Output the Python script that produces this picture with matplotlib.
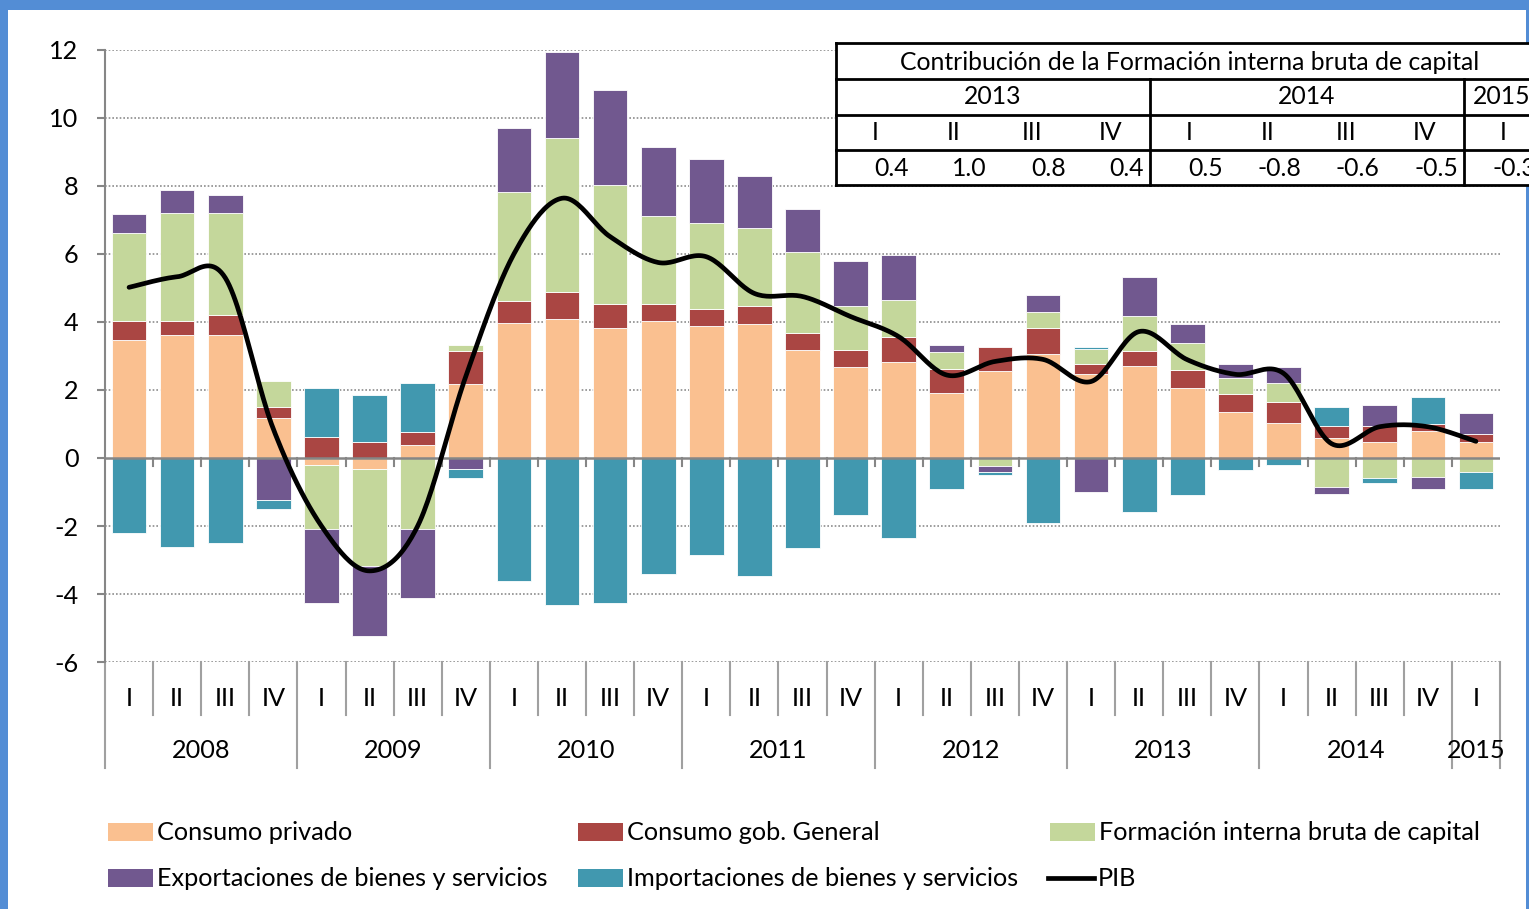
import numpy as np
import matplotlib
matplotlib.use("Agg")
import matplotlib.pyplot as plt
from matplotlib.patches import Rectangle
from matplotlib.lines import Line2D
import matplotlib.transforms as mtrans

plt.rcParams['font.family'] = ['Lato', 'DejaVu Sans']
plt.rcParams['axes.unicode_minus'] = False

# ---- data ----
years = ['2008', '2009', '2010', '2011', '2012', '2013', '2014', '2015']
quarters = ['I', 'II', 'III', 'IV'] * 7 + ['I']

consumo_privado = [3.47, 3.63, 3.63, 1.19, -0.22, -0.33, 0.38, 2.17,
                   3.98, 4.08, 3.83, 4.03, 3.88, 3.93, 3.17, 2.67,
                   2.82, 1.90, 2.57, 3.07, 2.46, 2.71, 2.05, 1.34,
                   1.03, 0.58, 0.47, 0.80, 0.47]
consumo_gob = [0.56, 0.40, 0.59, 0.31, 0.63, 0.48, 0.39, 0.99,
               0.65, 0.80, 0.70, 0.50, 0.50, 0.55, 0.51, 0.50,
               0.74, 0.71, 0.70, 0.76, 0.31, 0.45, 0.55, 0.55,
               0.62, 0.35, 0.46, 0.19, 0.25]
formacion = [2.58, 3.19, 3.00, 0.76, -1.88, -2.85, -2.10, 0.16,
             3.20, 4.52, 3.50, 2.59, 2.54, 2.28, 2.38, 1.31,
             1.08, 0.51, -0.24, 0.46, 0.45, 1.03, 0.78, 0.47,
             0.56, -0.84, -0.60, -0.55, -0.40]
exportaciones = [0.57, 0.66, 0.52, -1.24, -2.17, -2.06, -2.03, -0.33,
                 1.87, 2.53, 2.78, 2.02, 1.87, 1.52, 1.26, 1.32,
                 1.32, 0.21, -0.16, 0.50, -1.00, 1.12, 0.55, 0.41,
                 0.46, -0.21, 0.62, -0.36, 0.61]
importaciones = [-2.20, -2.61, -2.51, -0.25, 1.42, 1.37, 1.43, -0.25,
                 -3.62, -4.32, -4.27, -3.42, -2.85, -3.47, -2.66, -1.69,
                 -2.35, -0.90, -0.09, -1.90, 0.04, -1.60, -1.09, -0.34,
                 -0.20, 0.56, -0.14, 0.80, -0.51]
pib = [5.02, 5.33, 5.30, 0.85, -2.00, -3.32, -2.00, 2.40,
       6.00, 7.64, 6.51, 5.75, 5.92, 4.84, 4.75, 4.16,
       3.57, 2.44, 2.84, 2.90, 2.25, 3.72, 2.89, 2.46,
       2.49, 0.42, 0.92, 0.92, 0.49]

series_names = ['Consumo privado', 'Consumo gob. General',
                'Formación interna bruta de capital',
                'Exportaciones de bienes y servicios',
                'Importaciones de bienes y servicios']
series_colors = ['#FAC090', '#AA4643', '#C4D79B', '#71588F', '#4198AF']

tabla_titulo = 'Contribución de la Formación interna bruta de capital'
tabla_anios = ['2013', '2014', '2015']
tabla_trim = ['I', 'II', 'III', 'IV', 'I', 'II', 'III', 'IV', 'I']
tabla_valores = ['0.4', '1.0', '0.8', '0.4', '0.5', '-0.8', '-0.6', '-0.5', '-0.3']

W, H = 1529, 909
def fx(px):
    return px / W
def fy(py):
    return 1 - py / H

fs = 18.2
fig = plt.figure(figsize=(W / 100, H / 100), dpi=100)
ax = fig.add_axes([fx(105), fy(662), (1500 - 105) / W, (662 - 50) / H])

n = len(pib)
x = np.arange(n)
pos_base = np.zeros(n)
neg_base = np.zeros(n)
for vals, col in zip([consumo_privado, consumo_gob, formacion, exportaciones, importaciones],
                     series_colors):
    v = np.array(vals)
    bottom = np.where(v >= 0, pos_base, neg_base)
    ax.bar(x, v, 0.72, bottom=bottom, color=col, edgecolor='white', linewidth=0.6, zorder=2)
    pos_base = pos_base + np.where(v >= 0, v, 0)
    neg_base = neg_base + np.where(v < 0, v, 0)

# smoothed PIB line (Catmull-Rom through the data points)
P = np.column_stack([x, pib]).astype(float)
P = np.vstack([P[0], P, P[-1]])
t = np.linspace(0, 1, 25)[:, None]
curve = []
for i in range(1, len(P) - 2):
    p0, p1, p2, p3 = P[i - 1], P[i], P[i + 1], P[i + 2]
    seg = 0.5 * (2 * p1 + (-p0 + p2) * t + (2 * p0 - 5 * p1 + 4 * p2 - p3) * t ** 2
                 + (-p0 + 3 * p1 - 3 * p2 + p3) * t ** 3)
    curve.append(seg if i == 1 else seg[1:])
curve = np.vstack(curve)
ax.plot(curve[:, 0], curve[:, 1], color='black', lw=3.4, zorder=4, solid_capstyle='round')

ax.set_xlim(-0.5, n - 0.5)
ax.set_ylim(-6, 12)
ax.set_yticks(np.arange(-6, 13, 2))
ax.set_xticks([])
for yv in np.arange(-6, 13, 2):
    if yv != 0:
        ax.axhline(yv, color='#8C8C8C', lw=1.2, ls=(0, (1, 1.2)), zorder=1)
ax.axhline(0, color='#868686', lw=1.8, zorder=3)
for s in ['top', 'right', 'bottom']:
    ax.spines[s].set_visible(False)
ax.spines['left'].set_color('#868686')
ax.spines['left'].set_linewidth(1.5)
ax.tick_params(axis='y', length=6, width=1.5, color='#868686', labelsize=fs, pad=13)

# small ticks on the zero axis
for b in np.arange(0.5, n - 0.5, 1):
    ax.plot([b, b], [0, -0.24], color='#868686', lw=1.5, zorder=3)

# category axis below
tr = mtrans.blended_transform_factory(ax.transData, ax.transAxes)
for i in range(n + 1):
    b = i - 0.5
    low = -0.173 if (i % 4 == 0 or i == n) else -0.087
    ax.plot([b, b], [0, low], transform=tr, color='#A0A0A0', lw=1.5, clip_on=False)
for i, q in enumerate(quarters):
    ax.text(i, -0.059, q, transform=tr, ha='center', va='center', fontsize=fs)
for k, yr in enumerate(years):
    idx = [i for i in range(n) if i // 4 == k]
    ax.text(np.mean(idx), -0.144, yr, transform=tr, ha='center', va='center', fontsize=fs)

# legend
leg_pos = [(108, 832), (578, 832), (1050, 832), (108, 878), (578, 878)]
for (lx, ly), name, col in zip(leg_pos, series_names, series_colors):
    fig.add_artist(Rectangle((fx(lx), fy(ly + 9)), 45 / W, 18 / H, transform=fig.transFigure,
                             facecolor=col, edgecolor='none'))
    fig.text(fx(lx + 49), fy(ly), name, ha='left', va='center', fontsize=fs)
fig.add_artist(Line2D([fx(1048), fx(1094)], [fy(878), fy(878)], transform=fig.transFigure,
                      color='black', lw=3.4))
fig.text(fx(1098), fy(878), 'PIB', ha='left', va='center', fontsize=fs)

# blue frame
frame = '#538DD5'
for r in [(0, 0, 8, H), (0, 0, W, 10), (1526, 0, 3, H)]:
    fig.add_artist(Rectangle((fx(r[0]), fy(r[1] + r[3])), r[2] / W, r[3] / H,
                             transform=fig.transFigure, facecolor=frame, edgecolor='none', zorder=0.5))

# table
tl, tt, tb = 836, 43, 185
rows = [43, 79, 115, 150, 185]
fig.add_artist(Rectangle((fx(tl), fy(tb)), (1600 - tl) / W, (tb - tt) / H, transform=fig.transFigure,
                         facecolor='white', edgecolor='none', zorder=5))
for ry in rows:
    fig.add_artist(Line2D([fx(tl), fx(1600)], [fy(ry), fy(ry)], transform=fig.transFigure,
                          color='black', lw=2, zorder=6))
fig.add_artist(Line2D([fx(tl), fx(tl)], [fy(tt), fy(tb)], transform=fig.transFigure,
                      color='black', lw=2, zorder=6))
for vx in [1150, 1464]:
    fig.add_artist(Line2D([fx(vx), fx(vx)], [fy(79), fy(tb)], transform=fig.transFigure,
                          color='black', lw=2, zorder=6))
tfs = 17.8
fig.text(fx(1190), fy(62), tabla_titulo, ha='center', va='center', fontsize=tfs, zorder=7)
for yr, cx in zip(tabla_anios, [993, 1307, 1502]):
    fig.text(fx(cx), fy(97), yr, ha='center', va='center', fontsize=tfs, zorder=7)
sub = 78.5
for j, (q, v) in enumerate(zip(tabla_trim, tabla_valores)):
    blk = j // 4
    start = [tl, 1150, 1464][blk] + (j % 4) * sub
    fig.text(fx(start + sub / 2), fy(133), q, ha='center', va='center', fontsize=tfs, zorder=7)
    fig.text(fx(start + sub - 6), fy(168), v, ha='right', va='center', fontsize=tfs, zorder=7)

fig.savefig('out.png', dpi=100, facecolor='white')
